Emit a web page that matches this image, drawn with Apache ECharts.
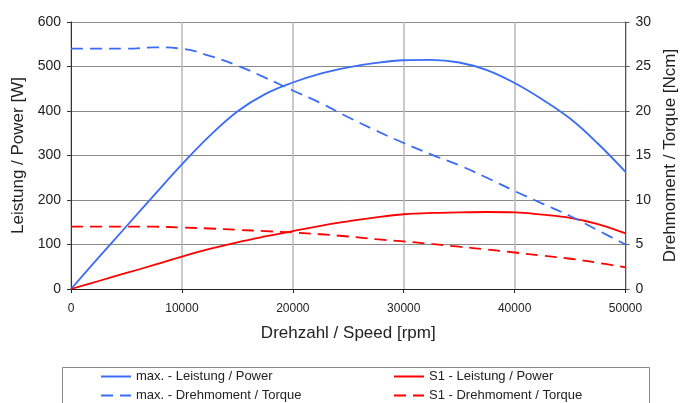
<!DOCTYPE html>
<html>
<head>
<meta charset="utf-8">
<script src="https://cdn.jsdelivr.net/npm/echarts@6/dist/echarts.min.js"></script>
<style>html,body{margin:0;padding:0;background:#fff}#c{width:687px;height:403px}</style>
</head>
<body>
<div id="c"></div>
<script>
const speed = [0,2500,5000,7500,10000,12500,15000,17500,20000,22500,25000,27500,30000,32500,35000,37500,40000,42500,45000,47500,50000];
const maxPower = [0,71,141,211,280,344,399,438,464,484,498,508,514,515,509,492,463,426,383,327,263];
const maxTorque = [27.0,27.0,27.0,27.15,27.0,26.2,25.1,23.75,22.3,20.9,19.3,17.8,16.4,15.1,13.9,12.5,11.0,9.6,8.2,6.6,5.0];
const s1Power = [0,18,36,54,73,90,105,118,130,142,152,161,168,171,172,173,172,167,160,146,125];
const s1Torque = [7.0,7.0,7.0,7.0,6.9,6.8,6.65,6.5,6.35,6.15,5.9,5.6,5.35,5.06,4.75,4.45,4.1,3.75,3.4,2.95,2.43];
const names = ['max. - Leistung / Power','S1 - Leistung / Power','max. - Drehmoment / Torque','S1 - Drehmoment / Torque'];
const xTitle = 'Drehzahl / Speed [rpm]';
const yLeftTitle = 'Leistung / Power [W]';
const yRightTitle = 'Drehmoment / Torque [Ncm]';

const pair = (arr) => speed.map((s,i)=>[s,arr[i]]);
const FONT = "'Liberation Sans', Arial, sans-serif";
const BLUE = '#3a6cf7', RED = '#ff0000';

const legendBase = {
  orient:'vertical',top:370,padding:0,
  itemWidth:30,itemHeight:14,itemGap:6,
  itemStyle:{opacity:0},
  textStyle:{fontSize:13,color:'#222',fontFamily:FONT}
};

const chart = echarts.init(document.getElementById('c'), null, {renderer:'canvas'});
chart.setOption({
  animation:false,
  backgroundColor:'#fff',
  textStyle:{fontFamily:FONT},
  grid:{left:71,right:50,top:22,bottom:114},
  xAxis:{
    type:'value',min:0,max:50000,interval:10000,
    name:xTitle,nameLocation:'middle',nameGap:36,
    nameTextStyle:{fontSize:17,color:'#222',fontFamily:FONT},
    axisLine:{lineStyle:{color:'#222',width:1}},
    axisTick:{show:true,length:4,lineStyle:{color:'#222'}},
    axisLabel:{fontSize:12,color:'#222',margin:14,fontFamily:FONT,formatter:(v)=>String(v)},
    splitLine:{show:true,lineStyle:{color:'#b8b8b8',width:1.5}}
  },
  yAxis:[{
    type:'value',min:0,max:600,interval:100,position:'left',
    name:yLeftTitle,nameLocation:'middle',nameGap:38,nameRotate:90,
    nameTextStyle:{fontSize:17,color:'#222',fontFamily:FONT},
    axisLine:{show:true,lineStyle:{color:'#333'}},
    axisTick:{show:true,length:4,lineStyle:{color:'#333'}},
    axisLabel:{fontSize:14,color:'#222',margin:10,fontFamily:FONT},
    splitLine:{show:true,lineStyle:{color:'#8a8a8a',width:1}}
  },{
    type:'value',min:0,max:30,interval:5,position:'right',
    name:yRightTitle,nameLocation:'middle',nameGap:33,nameRotate:90,
    nameTextStyle:{fontSize:17,color:'#222',fontFamily:FONT},
    axisLine:{show:true,lineStyle:{color:'#555'}},
    axisTick:{show:true,length:4,lineStyle:{color:'#555'}},
    axisLabel:{fontSize:14,color:'#222',margin:10,fontFamily:FONT},
    splitLine:{show:false}
  }],
  legend:[
    Object.assign({}, legendBase, {left:100, data:[names[0],names[2]]}),
    Object.assign({}, legendBase, {left:393, data:[names[1],names[3]]})
  ],
  graphic:[{type:'rect',left:60,top:365,shape:{width:587,height:60},style:{fill:'none',stroke:'#888',lineWidth:1},silent:true,z:-1}],
  series:[
    {name:names[0],type:'line',yAxisIndex:0,data:pair(maxPower),smooth:0.4,symbol:'none',lineStyle:{color:BLUE,width:1.8},itemStyle:{color:BLUE}},
    {name:names[1],type:'line',yAxisIndex:0,data:pair(s1Power),smooth:0.4,symbol:'none',lineStyle:{color:RED,width:1.8},itemStyle:{color:RED}},
    {name:names[2],type:'line',yAxisIndex:1,data:pair(maxTorque),smooth:0.4,symbol:'none',lineStyle:{color:BLUE,width:1.8,type:[12,7]},itemStyle:{color:BLUE}},
    {name:names[3],type:'line',yAxisIndex:1,data:pair(s1Torque),smooth:0.4,symbol:'none',lineStyle:{color:RED,width:1.8,type:[12,7]},itemStyle:{color:RED}}
  ]
});
</script>
</body>
</html>
